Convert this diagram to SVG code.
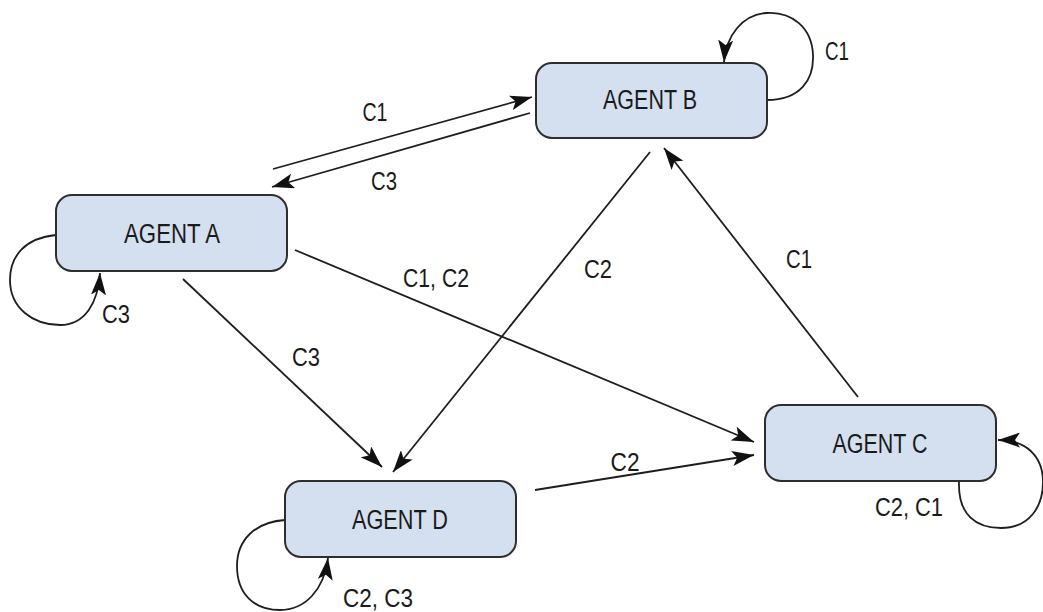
<svg xmlns="http://www.w3.org/2000/svg" width="1043" height="612" viewBox="0 0 1043 612">
  <style>
    .box { fill: #d4e0ef; stroke: #2e2e2e; stroke-width: 2; }
    .name { font-family: "Liberation Sans", Arial, sans-serif; font-size: 27px; fill: #1a1a1a; text-anchor: middle; }
    .lbl { font-family: "Liberation Sans", Arial, sans-serif; font-size: 25px; fill: #1a1a1a; text-anchor: middle; }
    .edge { fill: none; stroke: #1e1e1e; stroke-width: 1.8; marker-end: url(#arrow); }
  </style>
  <defs>
    <marker id="arrow" markerUnits="userSpaceOnUse" markerWidth="23" markerHeight="15" refX="22" refY="7.5" orient="auto">
      <path d="M0,0 L22,7.5 L0,15 L5,7.5 z" fill="#111"/>
    </marker>
  </defs>
  <rect width="1043" height="612" fill="#fff"/>

  <g id="connectors">
    <!-- A <-> B -->
    <path class="edge" d="M273,169 L532,97"/>
    <path class="edge" d="M530,113 L272,187"/>
    <!-- B self-loop -->
    <path class="edge" d="M767,100 C800,100 814,80 813,55 C812,28 792,11 766,13 C742,15 726,36 724,62"/>
    <!-- A self-loop -->
    <path class="edge" d="M56,235 C25,238 10,256 10,280 C10,308 33,325 60,325 C85,325 98,303 100,273"/>
    <!-- A -> D -->
    <path class="edge" d="M183,279 L382,467"/>
    <!-- B -> D -->
    <path class="edge" d="M650,152 L393,472"/>
    <!-- A -> C -->
    <path class="edge" d="M295,250 L754,442"/>
    <!-- C -> B -->
    <path class="edge" d="M858,397 L664,148"/>
    <!-- D -> C -->
    <path class="edge" d="M535,490 L754,455"/>
    <!-- C self-loop -->
    <path class="edge" d="M959,482 C958,515 976,528 1001,528 C1030,528 1043,506 1043,482 C1043,456 1026,440 998,440"/>
    <!-- D self-loop -->
    <path class="edge" d="M285,520 C255,522 237,540 237,566 C237,595 255,610 280,610 C305,610 324,590 328,558"/>

    <text class="lbl" x="375" y="121" textLength="25" lengthAdjust="spacingAndGlyphs">C1</text>
    <text class="lbl" x="384" y="190" textLength="26" lengthAdjust="spacingAndGlyphs">C3</text>
    <text class="lbl" x="837" y="60" textLength="24" lengthAdjust="spacingAndGlyphs">C1</text>
    <text class="lbl" x="116" y="323" textLength="28" lengthAdjust="spacingAndGlyphs">C3</text>
    <text class="lbl" x="306" y="366" textLength="28" lengthAdjust="spacingAndGlyphs">C3</text>
    <text class="lbl" x="598" y="278" textLength="28" lengthAdjust="spacingAndGlyphs">C2</text>
    <text class="lbl" x="436" y="287" textLength="66" lengthAdjust="spacingAndGlyphs">C1, C2</text>
    <text class="lbl" x="799" y="268" textLength="26" lengthAdjust="spacingAndGlyphs">C1</text>
    <text class="lbl" x="625" y="471" textLength="29" lengthAdjust="spacingAndGlyphs">C2</text>
    <text class="lbl" x="909" y="516" textLength="68" lengthAdjust="spacingAndGlyphs">C2, C1</text>
    <text class="lbl" x="378" y="607" textLength="70" lengthAdjust="spacingAndGlyphs">C2, C3</text>
  </g>

  <g id="agent-a">
    <rect class="box" x="56" y="195" width="231" height="76" rx="16"/>
    <text class="name" x="172" y="243" textLength="96" lengthAdjust="spacingAndGlyphs">AGENT A</text>
  </g>
  <g id="agent-b">
    <rect class="box" x="536" y="63" width="231" height="75" rx="16"/>
    <text class="name" x="650" y="109" textLength="94" lengthAdjust="spacingAndGlyphs">AGENT B</text>
  </g>
  <g id="agent-c">
    <rect class="box" x="765" y="405" width="231" height="76" rx="16"/>
    <text class="name" x="880" y="453" textLength="95" lengthAdjust="spacingAndGlyphs">AGENT C</text>
  </g>
  <g id="agent-d">
    <rect class="box" x="285" y="481" width="231" height="76" rx="16"/>
    <text class="name" x="400" y="529" textLength="96" lengthAdjust="spacingAndGlyphs">AGENT D</text>
  </g>
</svg>
